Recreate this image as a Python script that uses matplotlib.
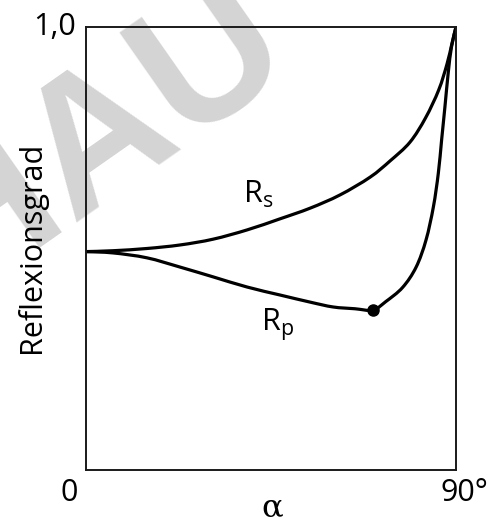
import matplotlib
matplotlib.use('Agg')
import numpy as np
import matplotlib.pyplot as plt
from matplotlib.path import Path
from matplotlib.patches import PathPatch

plt.rcParams['font.family'] = ['Open Sans', 'DejaVu Sans']
plt.rcParams['mathtext.fontset'] = 'custom'
plt.rcParams['mathtext.rm'] = 'Open Sans'

# values (angle in degrees, reflectance as fraction of the axis)
angle_s = [0, 6.6, 14.8, 22.9, 30.9, 39.2, 47.2, 54.5, 61.8, 69.1, 74.0, 78.8, 82.6, 85.8, 87.8, 89.0, 90]
refl_s = [0.493, 0.495, 0.500, 0.508, 0.521, 0.542, 0.567, 0.591, 0.621, 0.661, 0.698, 0.740, 0.795, 0.858, 0.916, 0.962, 1.0]

angle_p = [0, 6.6, 14.8, 22.9, 30.9, 39.2, 47.2, 54.5, 60.1, 65.4, 69.8, 72.9, 77.0, 80.3, 82.7, 84.5, 85.7, 86.5, 87.3, 88.1, 88.9, 90]
refl_p = [0.493, 0.490, 0.479, 0.458, 0.436, 0.413, 0.395, 0.379, 0.368, 0.364, 0.361, 0.380, 0.412, 0.458, 0.519, 0.594, 0.670, 0.745, 0.819, 0.896, 0.955, 1.0]

brewster_angle = 69.8
brewster_refl = 0.361

x_ticks = [0, 90]
x_ticklabels = ['0', '90°']
y_top_label = '1,0'


def smooth_path(xs, ys):
    # curve through the read points (Catmull-Rom written as cubic Bezier segments)
    pts = np.column_stack([xs, ys]).astype(float)
    n = len(pts)
    verts = [pts[0]]
    codes = [Path.MOVETO]
    for i in range(n - 1):
        p0 = pts[max(i - 1, 0)]
        p1 = pts[i]
        p2 = pts[i + 1]
        p3 = pts[min(i + 2, n - 1)]
        verts += [p1 + (p2 - p0) / 6, p2 - (p3 - p1) / 6, p2]
        codes += [Path.CURVE4] * 3
    return Path(verts, codes)


fig = plt.figure(figsize=(4.94, 5.22), dpi=100)
ax = fig.add_axes([86 / 494, 52 / 522, 370 / 494, 443 / 522])

# watermark behind the chart
fig.text(298 / 494, 1 - 66 / 522, 'VORSCHAU', fontsize=137, fontweight='bold',
         family='Liberation Sans', color='#d4d4d4', rotation=35, rotation_mode='anchor',
         ha='right', va='baseline', zorder=-1)
ax.patch.set_alpha(0)

for xs, ys in [(angle_s, refl_s), (angle_p, refl_p)]:
    ax.add_patch(PathPatch(smooth_path(xs, ys), facecolor='none', edgecolor='black',
                           lw=2.3, capstyle='round'))
ax.plot([brewster_angle], [brewster_refl], 'o', color='black', ms=8)

ax.set_xlim(0, 90)
ax.set_ylim(0, 1)
ax.set_xticks([])
ax.set_yticks([])
for sp in ax.spines.values():
    sp.set_linewidth(1.4)
    sp.set_color('#1a1a1a')

# tick texts
ax.annotate(x_ticklabels[0], xy=(x_ticks[0], 0), xytext=(-8, -8), textcoords='offset pixels',
            ha='right', va='top', fontsize=22)
ax.annotate(x_ticklabels[1], xy=(x_ticks[1], 0), xytext=(-16, -8), textcoords='offset pixels',
            ha='left', va='top', fontsize=22)
ax.annotate(y_top_label, xy=(0, 1), xytext=(-10, 0), textcoords='offset pixels',
            ha='right', va='center', fontsize=22)

ax.text(41.8, 0.621, r'R$_\mathrm{s}$', fontsize=22, ha='center', va='center')
ax.text(46.7, 0.327, r'R$_\mathrm{p}$', fontsize=22, ha='center', va='center')

fig.text(272 / 494, 1 - 508 / 522, 'α', family='DejaVu Serif', fontsize=23,
         ha='center', va='center')
fig.text(32 / 494, 0.5 * (1 - 137 / 522 + 1 - 357 / 522), 'Reflexionsgrad', fontsize=22,
         rotation=90, ha='center', va='center')

fig.savefig('out.png', dpi=100)
